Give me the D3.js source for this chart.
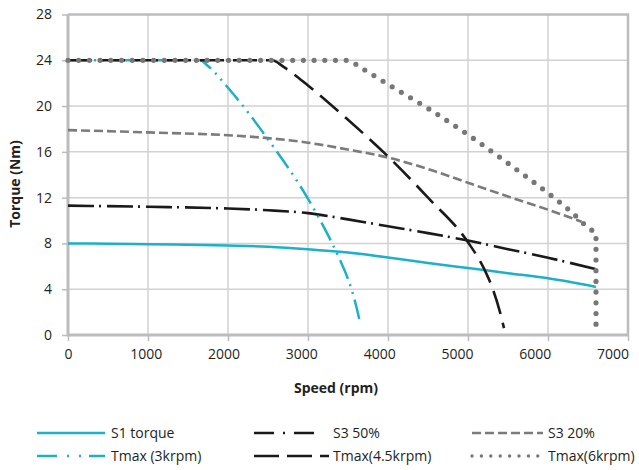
<!DOCTYPE html>
<html><head><meta charset="utf-8">
<script src="https://cdn.jsdelivr.net/npm/d3@7"></script>
<style>
body{margin:0;background:#fff;}
svg{display:block;font-family:"Open Sans",sans-serif;}
</style></head>
<body><svg id="c" width="639" height="470"></svg>
<script>
// ---- data ----
const xTicks = [0,1000,2000,3000,4000,5000,6000,7000];
const yTicks = [0,4,8,12,16,20,24,28];

const s1Speed  = [0,500,1000,1500,2000,2500,3000,3500,4000,4500,5000,5500,6000,6600];
const s1Torque = [8.0,7.97,7.93,7.88,7.82,7.72,7.5,7.2,6.78,6.3,5.85,5.4,4.95,4.2];

const s350Speed  = [0,1000,2000,2500,3000,3500,4000,4500,5000,5500,6000,6600];
const s350Torque = [11.3,11.2,11.05,10.9,10.65,10.1,9.5,8.9,8.25,7.5,6.75,5.75];

const s320Speed  = [0,1000,2000,2500,3000,3500,4000,4500,5000,5500,6000,6420];
const s320Torque = [17.9,17.7,17.45,17.2,16.8,16.2,15.5,14.5,13.3,12.1,10.95,9.9];

const t3Speed  = [0,1650,1750,2000,2500,3000,3200,3400,3500,3600,3650];
const t3Torque = [24,24,23.5,21.6,17.1,11.9,9.4,6.55,4.9,2.6,1.1];

const t45Speed  = [0,2550,2700,3000,3500,4000,4500,5000,5200,5300,5400,5450];
const t45Torque = [24,24,23.4,21.8,18.8,15.6,12.0,8.1,5.8,4.2,2.0,0.6];

const t6Speed  = [0,3500,3650,4000,4500,5000,5500,6000,6300,6500,6600,6600];
const t6Torque = [24,24,23.4,21.9,19.8,17.5,15.0,12.4,10.7,9.4,8.9,0.3];

const seriesNames = ["S1 torque","S3 50%","S3 20%","Tmax (3krpm)","Tmax(4.5krpm)","Tmax(6krpm)"];

// ---- styles ----
const cyan = "#1fafc8", black = "#1a1a1a", gray = "#7b7b7b";
const styles = [
  {c:cyan, w:2.5, dash:null, cap:"butt"},
  {c:black, w:2.6, dash:"26 5 2 6", cap:"butt"},
  {c:gray, w:2.6, dash:"9 4", cap:"butt"},
  {c:cyan, w:2.5, dash:"20 6 2 6 2 6", cap:"butt"},
  {c:black, w:2.6, dash:"24 9", cap:"butt"},
  {c:"#777777", w:5.2, dash:"0 10.7", cap:"round"}
];
const data = [
  [s1Speed,s1Torque],[s350Speed,s350Torque],[s320Speed,s320Torque],
  [t3Speed,t3Torque],[t45Speed,t45Torque],[t6Speed,t6Torque]
];

const svg = d3.select("#c");
const L=68, R=628, T=14.5, B=335;
const x = d3.scaleLinear().domain([0,7000]).range([L,R]);
const xLab = d3.scaleLinear().domain([0,7000]).range([L,612.5]);
const y = d3.scaleLinear().domain([0,28]).range([B,T]);

// grid
const g = svg.append("g");
g.selectAll(".gx").data(xTicks.slice(1,-1)).join("line")
  .attr("x1",d=>x(d)).attr("x2",d=>x(d)).attr("y1",T).attr("y2",B)
  .attr("stroke","#d2d2d4").attr("stroke-width",1.5);
g.selectAll(".gy").data(yTicks.slice(1,-1)).join("line")
  .attr("x1",L).attr("x2",R).attr("y1",d=>y(d)).attr("y2",d=>y(d))
  .attr("stroke","#d2d2d4").attr("stroke-width",1.5);
// frame top/right
svg.append("path").attr("d",`M${L},${T}H${R}V${B}`).attr("fill","none")
  .attr("stroke","#bcbcc0").attr("stroke-width",2.5);

// axes
const ya = svg.append("g").attr("transform",`translate(${L},0)`)
  .call(d3.axisLeft(y).tickValues(yTicks).tickSize(6).tickPadding(10).tickFormat(d3.format("d")));
ya.select(".domain").remove();
ya.selectAll(".tick line").attr("stroke","#bcbcc0").attr("stroke-width",1.5);
ya.selectAll("text").attr("font-size",14).attr("fill","#231f20").attr("font-family","Open Sans");

const xa = svg.append("g").attr("transform",`translate(0,${B})`)
  .call(d3.axisBottom(x).tickValues(xTicks).tickSize(6).tickFormat(""));
xa.select(".domain").remove();
xa.selectAll(".tick line").attr("stroke","#bcbcc0").attr("stroke-width",1.5);

const xl = svg.append("g").attr("transform",`translate(0,${B})`)
  .call(d3.axisBottom(xLab).tickValues(xTicks).tickSize(0).tickPadding(14).tickFormat(d3.format("d")));
xl.select(".domain").remove();
xl.selectAll("text").attr("font-size",14).attr("fill","#231f20").attr("font-family","Open Sans");

// axis lines left & bottom
svg.append("path").attr("d",`M${L},${T}V${B}H${R}`).attr("fill","none")
  .attr("stroke","#bcbcc0").attr("stroke-width",3);

// series
const smooth = d3.line().x(d=>x(d[0])).y(d=>y(d[1])).curve(d3.curveMonotoneX);
data.forEach((s,i)=>{
  const pts = s[0].map((v,j)=>[v,s[1][j]]);
  const st = styles[i];
  let d;
  if (i===5) {
    // smooth fall-off, then straight vertical drop at max speed
    const last = pts[pts.length-1];
    d = smooth(pts.slice(0,-1)) + "L" + x(last[0]) + "," + y(last[1]);
  } else d = smooth(pts);
  svg.append("path").attr("d",d).attr("fill","none")
    .attr("stroke",st.c).attr("stroke-width",st.w)
    .attr("stroke-dasharray",st.dash).attr("stroke-linecap",st.cap)
    .attr("stroke-linejoin","round");
});

// titles
svg.append("text").attr("x",336).attr("y",393).attr("text-anchor","middle")
  .attr("font-size",14).attr("font-weight","bold").attr("fill","#231f20").text("Speed (rpm)");
svg.append("text").attr("transform","translate(20,184) rotate(-90)").attr("text-anchor","middle")
  .attr("font-size",14).attr("font-weight","bold").attr("fill","#231f20").text("Torque (Nm)");

// legend
const legPos = [
  {x1:37,x2:105,tx:111,y:433},
  {x1:254,x2:318,tx:333,y:433},
  {x1:472,x2:543,tx:548,y:433},
  {x1:37,x2:105,tx:111,y:456},
  {x1:254,x2:329,tx:333,y:456},
  {x1:472,x2:543,tx:548,y:456}
];
const lg = svg.append("g");
seriesNames.forEach((n,i)=>{
  const p = legPos[i], st = styles[i];
  lg.append("line").attr("x1",p.x1).attr("x2",p.x2).attr("y1",p.y).attr("y2",p.y)
    .attr("stroke",st.c).attr("stroke-width",i===5?3.4:st.w)
    .attr("stroke-dasharray", i===1?"20 9 2 9": i===3?"20 10 2 10 2 8": i===4?"25 8": i===5?"0 9.4": st.dash)
    .attr("stroke-linecap",st.cap);
  lg.append("text").attr("x",p.tx).attr("y",p.y+5).attr("font-size",14)
    .attr("fill","#231f20").text(n);
});
</script></body></html>
